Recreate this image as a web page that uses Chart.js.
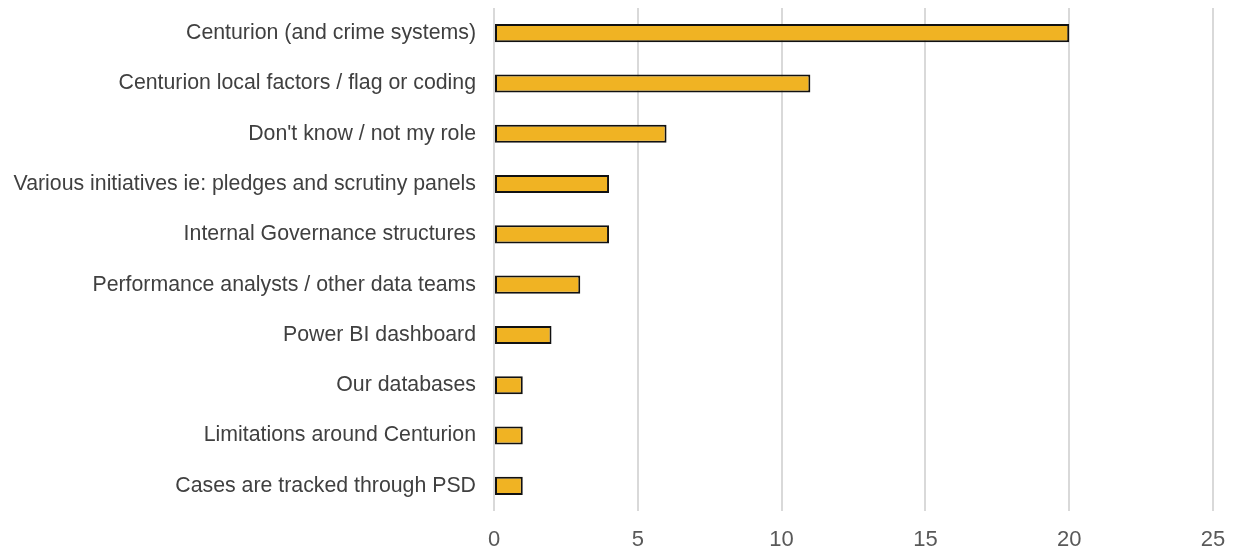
<!DOCTYPE html>
<html>
<head>
<meta charset="utf-8">
<script src="https://cdn.jsdelivr.net/npm/chart.js@4"></script>
<style>
html,body{margin:0;padding:0;background:#fff;}
#wrap{width:1238px;height:552px;}
</style>
</head>
<body>
<div id="wrap"><canvas id="c" width="1238" height="552"></canvas></div>
<script>
const categories = [
  "Centurion (and crime systems)",
  "Centurion local factors / flag or coding",
  "Don't know / not my role",
  "Various initiatives ie: pledges and scrutiny panels",
  "Internal Governance structures",
  "Performance analysts / other data teams",
  "Power BI dashboard",
  "Our databases",
  "Limitations around Centurion",
  "Cases are tracked through PSD"
];
const values = [20, 11, 6, 4, 4, 3, 2, 1, 1, 1];
const xTicks = [0, 5, 10, 15, 20, 25];

new Chart(document.getElementById('c'), {
  type: 'bar',
  data: {
    labels: categories,
    datasets: [{
      data: values,
      backgroundColor: '#F0B323',
      borderColor: '#111111',
      borderWidth: 2,
      borderSkipped: false,
      categoryPercentage: 1,
      barPercentage: 0.36
    }]
  },
  options: {
    indexAxis: 'y',
    responsive: false,
    animation: false,
    layout: { padding: { top: 8, right: 25, left: 0, bottom: 0 } },
    plugins: { legend: { display: false }, tooltip: { enabled: false } },
    scales: {
      x: {
        min: 0, max: 25,
        afterBuildTicks: s => { s.ticks = xTicks.map(v => ({ value: v })); },
        afterFit: s => { s.height = 41; s.paddingLeft = 0; s.paddingRight = 0; },
        grid: { color: '#d9d9d9', lineWidth: 2, drawTicks: false },
        border: { display: false },
        ticks: { padding: 16, color: '#595959', font: { family: 'Liberation Sans, Arial', size: 22 } }
      },
      y: {
        afterFit: s => { s.width = 494; s.paddingTop = 0; s.paddingBottom = 0; },
        grid: { display: false, drawTicks: false },
        border: { display: false },
        ticks: { padding: 18, color: '#404040', font: { family: 'Liberation Sans, Arial', size: 21.3 } }
      }
    }
  }
});
</script>
</body>
</html>
